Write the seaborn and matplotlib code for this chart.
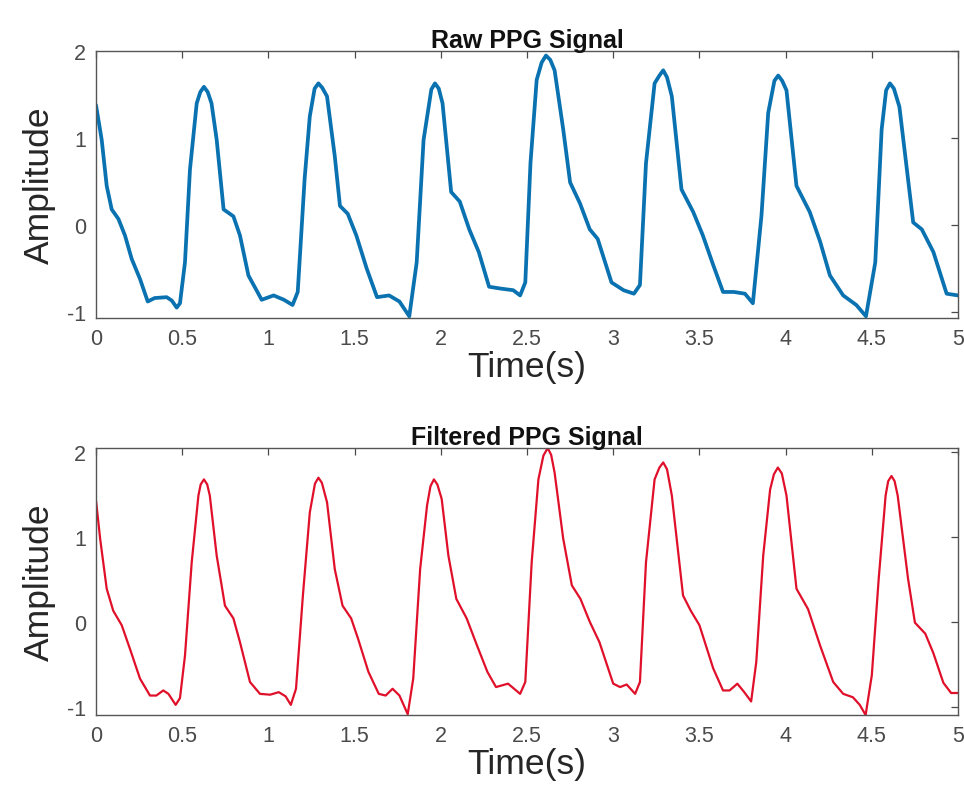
import matplotlib
matplotlib.use("Agg")
import matplotlib.pyplot as plt
import seaborn as sns
import pandas as pd
from matplotlib.ticker import FuncFormatter

# ---- data ----
raw_time = [0, .033, .062, .091, .13, .168, .207, .255, .30, .34,
            .41, .44, .468, .487, .516, .545, .584, .605, .626, .648, .67, .70,
            .74, .797, .835, .884, .961, 1.03, 1.09, 1.14, 1.17, 1.21,
            1.24, 1.268, 1.29, 1.312, 1.34, 1.385, 1.415, 1.46, 1.51, 1.57, 1.63, 1.70,
            1.76, 1.817, 1.86, 1.90, 1.945, 1.966, 1.988, 2.01, 2.06, 2.11, 2.165, 2.22,
            2.28, 2.343, 2.42, 2.46, 2.49, 2.52, 2.556, 2.585, 2.61, 2.635, 2.66, 2.71,
            2.75, 2.807, 2.864, 2.91, 2.99, 3.06, 3.12, 3.155, 3.19, 3.24,
            3.268, 3.29, 3.312, 3.34, 3.396, 3.464, 3.52, 3.58, 3.637, 3.70, 3.764, 3.81,
            3.86, 3.899, 3.935, 3.957, 3.98, 4.005, 4.063, 4.14, 4.20, 4.257, 4.334, 4.41,
            4.466, 4.52, 4.557, 4.583, 4.605, 4.628, 4.66, 4.74, 4.79, 4.857, 4.934, 5.0]
raw_amp = [1.38, .98, .45, .18, .07, -.12, -.39, -.62, -.88, -.84,
           -.83, -.87, -.95, -.90, -.43, .64, 1.40, 1.53, 1.59, 1.53, 1.40, .98,
           .18, .10, -.12, -.58, -.86, -.81, -.86, -.92, -.77, .53,
           1.25, 1.57, 1.63, 1.58, 1.48, .79, .22, .13, -.12, -.50, -.83, -.81,
           -.88, -1.05, -.43, .98, 1.56, 1.63, 1.57, 1.40, .38, .27, -.05, -.31,
           -.71, -.73, -.75, -.81, -.66, .71, 1.67, 1.87, 1.95, 1.90, 1.78, 1.10,
           .49, .25, -.05, -.16, -.66, -.75, -.79, -.69, .71, 1.63,
           1.72, 1.78, 1.70, 1.48, .41, .15, -.12, -.46, -.77, -.77, -.79, -.90,
           .11, 1.29, 1.66, 1.72, 1.66, 1.55, .45, .15, -.19, -.58, -.81, -.92,
           -1.05, -.43, 1.10, 1.55, 1.63, 1.57, 1.36, .03, -.05, -.31, -.79, -.81]

filt_time = [0, .024, .062, .10, .149, .197, .255, .313, .35, .39,
             .42, .462, .487, .516, .555, .594, .607, .626, .645, .66, .70, .748,
             .797, .835, .893, .951, 1.01, 1.06, 1.10, 1.13, 1.16, 1.20,
             1.24, 1.27, 1.29, 1.31, 1.34, 1.385, 1.43, 1.48, 1.52, 1.58, 1.64, 1.68,
             1.72, 1.76, 1.808, 1.84, 1.88, 1.92, 1.94, 1.96, 1.98, 2.005, 2.044, 2.09,
             2.15, 2.21, 2.27, 2.32,
             2.39, 2.46, 2.49, 2.527, 2.566, 2.595, 2.62, 2.64, 2.66, 2.71, 2.76, 2.81,
             2.864, 2.92, 3.00, 3.04, 3.078, 3.127, 3.155, 3.19, 3.24, 3.268, 3.29, 3.312,
             3.34, 3.405, 3.45, 3.50, 3.58, 3.637, 3.675, 3.72, 3.76, 3.80,
             3.83, 3.87, 3.91, 3.932, 3.955, 3.978, 4.005, 4.063, 4.13, 4.20, 4.276, 4.334,
             4.39, 4.43, 4.464, 4.50, 4.54, 4.58, 4.595, 4.614, 4.632, 4.65, 4.71, 4.75,
             4.81, 4.857, 4.915, 4.96, 5.0]
filt_amp = [1.43, .98, .39, .13, -.04, -.32, -.67, -.87, -.87, -.81,
            -.85, -.98, -.90, -.40, .70, 1.49, 1.62, 1.68, 1.62, 1.49, .78, .19,
            .04, -.24, -.71, -.85, -.86, -.83, -.88, -.98, -.79, .31,
            1.29, 1.63, 1.70, 1.64, 1.41, .62, .19, .04, -.20, -.59, -.85, -.87,
            -.79, -.87, -1.09, -.67, .62, 1.37, 1.60, 1.68, 1.62, 1.45, .78, .27,
            .04, -.28, -.59, -.77,
            -.73, -.85, -.71, .70, 1.68, 1.96, 2.05, 1.97, 1.76, .98, .43, .27,
            -.00, -.24, -.73, -.77, -.74, -.85, -.71, .70, 1.68, 1.82, 1.88, 1.80,
            1.49, .31, .13, -.04, -.55, -.81, -.81, -.73, -.83, -.94,
            -.47, .78, 1.56, 1.74, 1.82, 1.75, 1.49, .39, .15, -.28, -.71, -.85,
            -.89, -.98, -1.10, -.63, .51, 1.49, 1.66, 1.72, 1.66, 1.49, .51, -.01,
            -.14, -.37, -.72, -.84, -.84]

x_ticks = [0, 0.5, 1, 1.5, 2, 2.5, 3, 3.5, 4, 4.5, 5]
y_ticks = [-1, 0, 1, 2]
titles = ["Raw PPG Signal", "Filtered PPG Signal"]

# ---- styling ----
sns.set_theme(style="white")
plt.rcParams["font.family"] = ["Liberation Sans", "DejaVu Sans"]
plt.rcParams.update({
    "xtick.direction": "in", "ytick.direction": "in",
    "xtick.top": True, "ytick.right": True,
    "xtick.major.size": 5, "ytick.major.size": 5,
    "xtick.major.width": 0.9, "ytick.major.width": 0.9,
    "xtick.color": "#4a4a4a", "ytick.color": "#4a4a4a",
    "axes.edgecolor": "#555555", "axes.linewidth": 1.0,
})

fig = plt.figure(figsize=(9.64, 8.03), dpi=100)
ax1 = fig.add_axes([0.0996, 0.6027, 0.8942, 0.3323])
ax2 = fig.add_axes([0.0996, 0.1083, 0.8942, 0.3325])

raw_df = pd.DataFrame({"t": raw_time, "a": raw_amp})
filt_df = pd.DataFrame({"t": filt_time, "a": filt_amp})

sns.lineplot(data=raw_df, x="t", y="a", ax=ax1, color="#0a72b0",
             linewidth=2.7, sort=False, solid_joinstyle="round",
             solid_capstyle="round")
sns.lineplot(data=filt_df, x="t", y="a", ax=ax2, color="#e0102a",
             linewidth=1.6, sort=False, solid_joinstyle="round",
             solid_capstyle="round")

fmt = FuncFormatter(lambda v, p: f"{v:g}")
for ax, title, ylim in zip((ax1, ax2), titles, ((-1.07, 2.0), (-1.1, 2.05))):
    ax.set_xlim(0, 5)
    ax.set_ylim(*ylim)
    ax.set_xticks(x_ticks)
    ax.set_yticks(y_ticks)
    ax.xaxis.set_major_formatter(fmt)
    ax.yaxis.set_major_formatter(fmt)
    ax.tick_params(labelsize=15.5, labelcolor="#4a4a4a", pad=7)
    ax.set_xlabel("Time(s)", fontsize=25.5, color="#262626", labelpad=1)
    ax.set_ylabel("Amplitude", fontsize=25.5, color="#262626", labelpad=8)
    ax.set_title(title, fontsize=18, fontweight="bold", color="#111111", pad=3)
    for s in ax.spines.values():
        s.set_visible(True)

fig.savefig("out.png", dpi=100, facecolor="white")
